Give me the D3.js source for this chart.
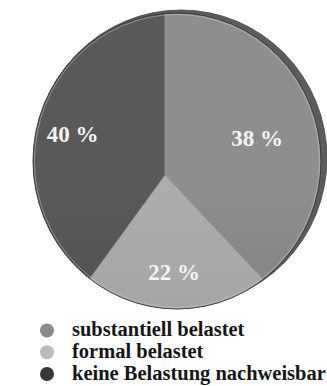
<!DOCTYPE html>
<html><head><meta charset="utf-8">
<script src="https://cdn.jsdelivr.net/npm/d3@7"></script>
<style>body{margin:0;background:#fff}svg{display:block}</style>
</head><body>
<script>
// ---- data ----
const categories = ["substantiell belastet", "formal belastet", "keine Belastung nachweisbar"];
const values = [38, 22, 40];
const valueLabels = ["38 %", "22 %", "40 %"];
const sliceTop = ["#8e8e8e", "#adadad", "#595959"];
const sliceBottom = ["#747474", "#9c9c9c", "#464646"];
const legendColors = ["#8a8a8a", "#bcbcbc", "#383838"];

// ---- layout ----
const W = 327, H = 386;
const svg = d3.select("body").append("svg").attr("width", W).attr("height", H);
const defs = svg.append("defs");
const vertex = [165, 175];
const face = {cx: 177, cy: 161, rx: 144, ry: 148};
const rim = {cx: 181, cy: 158, rx: 146, ry: 148};
const serif = "'Liberation Serif','DejaVu Serif',serif";

// rim (3D edge)
svg.append("ellipse").attr("cx", rim.cx).attr("cy", rim.cy).attr("rx", rim.rx).attr("ry", rim.ry)
  .attr("fill", "#5c5c5c").attr("stroke", "#444").attr("stroke-width", 0.8);

defs.append("clipPath").attr("id", "faceClip").append("ellipse")
  .attr("cx", face.cx).attr("cy", face.cy).attr("rx", face.rx).attr("ry", face.ry);

categories.forEach((c, i) => {
  const g = defs.append("linearGradient").attr("id", "g" + i)
    .attr("gradientUnits", "userSpaceOnUse").attr("x1", 0).attr("y1", face.cy - face.ry)
    .attr("x2", 0).attr("y2", face.cy + face.ry);
  g.append("stop").attr("offset", 0).attr("stop-color", sliceTop[i]);
  g.append("stop").attr("offset", 1).attr("stop-color", sliceBottom[i]);
});

const pie = d3.pie().sort(null).value(d => d)(values);
const wedge = d3.arc().innerRadius(0).outerRadius(400);

const pg = svg.append("g").attr("clip-path", "url(#faceClip)");
pg.append("g").attr("transform", `translate(${vertex})`)
  .selectAll("path").data(pie).join("path")
  .attr("d", wedge)
  .attr("fill", (d, i) => `url(#g${i})`)
  .attr("stroke", "#9a9a9a").attr("stroke-width", 0.6);

// face outline and highlight
svg.append("ellipse").attr("cx", face.cx).attr("cy", face.cy).attr("rx", face.rx).attr("ry", face.ry)
  .attr("fill", "none").attr("stroke", "#3a3a3a").attr("stroke-width", 1);
svg.append("ellipse").attr("cx", face.cx).attr("cy", face.cy).attr("rx", face.rx - 1.5).attr("ry", face.ry - 1.5)
  .attr("fill", "none").attr("stroke", "#cfcfcf").attr("stroke-width", 0.8).attr("opacity", 0.6);

// value labels (placed along each slice's mid-angle, with a slight perspective lift)
const labelR = 98;
const lift = 0.25;
svg.append("g").selectAll("text").data(pie).join("text")
  .attr("x", d => { const a = (d.startAngle + d.endAngle) / 2; return vertex[0] + labelR * Math.sin(a) + lift * (face.cx - vertex[0]) * Math.abs(Math.cos(a)); })
  .attr("y", d => { const a = (d.startAngle + d.endAngle) / 2; return vertex[1] - labelR * Math.cos(a) + lift * (face.cy - vertex[1]) * Math.abs(Math.sin(a)) * (Math.sin(a) < 0 ? 3 : 0); })
  .attr("text-anchor", "middle").attr("dominant-baseline", "central")
  .attr("font-family", serif).attr("font-weight", "bold").attr("font-size", 23)
  .attr("fill", "#f4f4f4")
  .text((d, i) => valueLabels[i]);

// legend
const ly = d3.scalePoint().domain(categories).range([330.5, 374]);
const lg = svg.append("g");
lg.selectAll("circle").data(categories).join("circle")
  .attr("cx", 47).attr("cy", d => ly(d)).attr("r", 7)
  .attr("fill", (d, i) => legendColors[i]);
const lt = lg.selectAll("text").data(categories).join("text")
  .attr("x", 72).attr("y", d => ly(d) + 5.5)
  .attr("font-family", serif).attr("font-weight", "bold").attr("font-size", 18)
  .attr("fill", "#161616").text(d => d);
const longest = d3.max(lt.nodes(), n => n.getComputedTextLength());
lt.attr("font-size", 18 * 254 / longest);
</script>
</body></html>
